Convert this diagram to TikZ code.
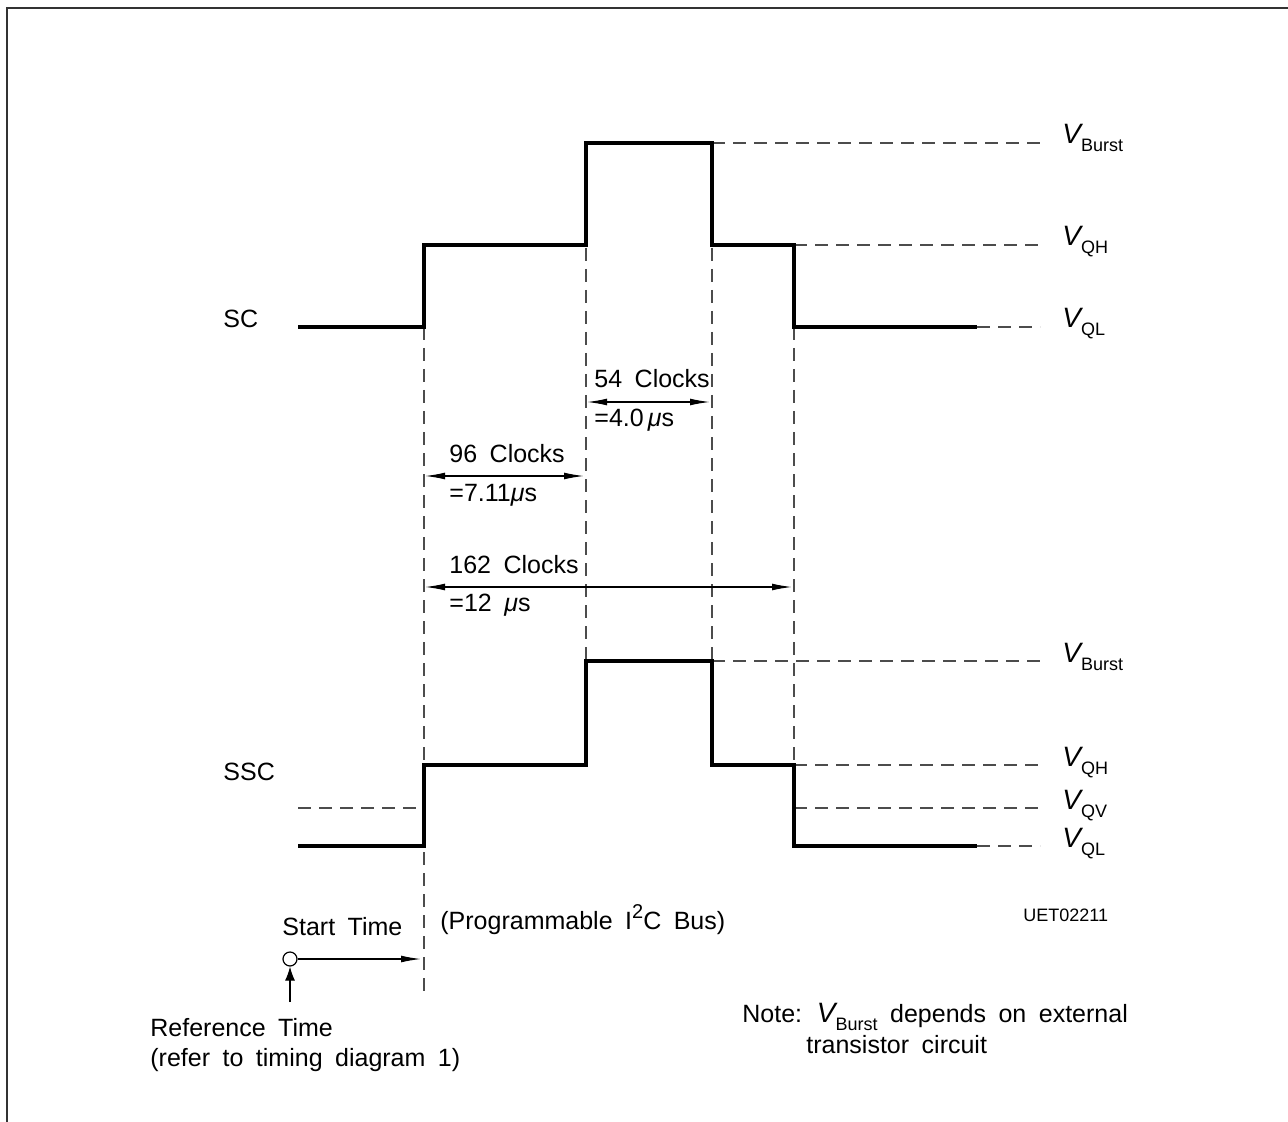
\documentclass[tikz,border=0pt]{standalone}
\usepackage{fontspec}
\setmainfont{Liberation Sans}[WordSpace=1.8]
\usetikzlibrary{arrows.meta}
\newcommand{\Vsub}[1]{{\fontsize{14}{16}\selectfont\itshape V}\raisebox{-4pt}{\fontsize{9}{10}\selectfont #1}}
\newcommand{\mus}{{\itshape μ}s}
\begin{document}
\begin{tikzpicture}[x=0.5pt,y=-0.5pt,
  sig/.style={line width=2pt, line join=miter},
  guide/.style={line width=0.7pt, draw=black!70, dash pattern=on 6.5pt off 4pt},
  dim/.style={line width=0.6pt, {Latex[length=10pt,width=3.4pt]}-{Latex[length=10pt,width=3.4pt]}},
  single/.style={line width=0.6pt, -{Latex[length=10pt,width=3.4pt]}},
  upar/.style={line width=0.6pt, -{Latex[length=7pt,width=5pt]}},
  lbl/.style={anchor=base west, inner sep=0pt, font=\fontsize{12.5}{15}\selectfont},
  vlbl/.style={anchor=base west, inner sep=0pt},
  frame/.style={line width=1pt, draw=black!80}]
\useasboundingbox (0,0) rectangle (1288,1122);
% frame
\coordinate (f0) at (7,1122);
\coordinate (f1) at (7,8);
\coordinate (f2) at (1288,8);
\draw[frame] (f0) -- (f1) -- (f2);

% SC waveform points
\coordinate (s0) at (298,327); \coordinate (s1) at (424,327);
\coordinate (s2) at (424,245); \coordinate (s3) at (586,245);
\coordinate (s4) at (586,143); \coordinate (s5) at (712,143);
\coordinate (s6) at (712,245); \coordinate (s7) at (794,245);
\coordinate (s8) at (794,327); \coordinate (s9) at (977,327);
% SSC waveform points
\coordinate (t0) at (298,846); \coordinate (t1) at (424,846);
\coordinate (t2) at (424,765); \coordinate (t3) at (586,765);
\coordinate (t4) at (586,661); \coordinate (t5) at (712,661);
\coordinate (t6) at (712,765); \coordinate (t7) at (794,765);
\coordinate (t8) at (794,846); \coordinate (t9) at (977,846);
% guide ends
\coordinate (rB) at (1040,143); \coordinate (rH) at (1040,245); \coordinate (rL) at (1040,327);
\coordinate (uB) at (1040,661); \coordinate (uH) at (1040,765); \coordinate (uV) at (1040,808); \coordinate (uL) at (1040,846);
\coordinate (qv0) at (298,808); \coordinate (qv1) at (424,808); \coordinate (qv2) at (794,808);
\coordinate (vb) at (424,995);

% guides
\draw[guide] (s1) -- (vb);
\draw[guide] (s4) -- (t4);
\draw[guide] (s5) -- (t5);
\draw[guide] (s8) -- (t7);
\draw[guide] (s5) -- (rB);
\draw[guide] (s7) -- (rH);
\draw[guide] (s9) -- (rL);
\draw[guide] (t5) -- (uB);
\draw[guide] (t7) -- (uH);
\draw[guide] (qv0) -- (qv1);
\draw[guide] (qv2) -- (uV);
\draw[guide] (t9) -- (uL);

% waveforms
\draw[sig] (s0) -- (s1) -- (s2) -- (s3) -- (s4) -- (s5) -- (s6) -- (s7) -- (s8) -- (s9);
\draw[sig] (t0) -- (t1) -- (t2) -- (t3) -- (t4) -- (t5) -- (t6) -- (t7) -- (t8) -- (t9);

% signal names
\node[lbl] (sc) at (223,328) {SC};
\node[lbl] (ssc) at (223,780) {SSC};

% level labels
\node[vlbl] (lb1) at (1062,144) {\Vsub{Burst}};
\node[vlbl] (lh1) at (1062,246) {\Vsub{QH}};
\node[vlbl] (ll1) at (1062,328) {\Vsub{QL}};
\node[vlbl] (lb2) at (1062,662) {\Vsub{Burst}};
\node[vlbl] (lh2) at (1062,766) {\Vsub{QH}};
\node[vlbl] (lv2) at (1062,809) {\Vsub{QV}};
\node[vlbl] (ll2) at (1062,847) {\Vsub{QL}};

% dimension arrows
\coordinate (a54l) at (587,402); \coordinate (a54r) at (710,402);
\coordinate (a96l) at (425,476); \coordinate (a96r) at (584,476);
\coordinate (a162l) at (425,587); \coordinate (a162r) at (792,587);
\draw[dim] (a54l) -- (a54r);
\draw[dim] (a96l) -- (a96r);
\draw[dim] (a162l) -- (a162r);
\node[lbl] (c54) at (594,387) {54 Clocks};
\node[lbl] (u54) at (594,427) {=4.0\,\mus};
\node[lbl] (c96) at (449,462) {96 Clocks};
\node[lbl] (u96) at (449,501) {=7.11\mus};
\node[lbl] (c162) at (449,573) {162 Clocks};
\node[lbl] (u162) at (449,611) {=12 \mus};

% start time
\node[lbl] (st) at (282,935) {Start Time};
\node[draw, circle, line width=0.6pt, minimum size=7pt, inner sep=0pt] (circ) at (290,959) {};
\coordinate (stend) at (421,959);
\draw[single] (circ) -- (stend);
\coordinate (upb) at (290,1002);
\draw[upar] (upb) -- (circ.south);
\node[lbl] (ref1) at (150,1036) {Reference Time};
\node[lbl] (ref2) at (150,1066) {(refer to timing diagram 1)};
\node[lbl] (prog) at (440,929) {(Programmable I\raisebox{0.8ex}{\fontsize{10}{12}\selectfont 2}C Bus)};
\node[anchor=base west, inner sep=0pt, font=\fontsize{9}{11}\selectfont] (uet) at (1023,921) {UET02211};

% note
\node[lbl] (note1) at (742,1022) {Note: \Vsub{Burst} depends on external};
\node[lbl] (note2) at (806,1053) {transistor circuit};
\end{tikzpicture}
\end{document}
